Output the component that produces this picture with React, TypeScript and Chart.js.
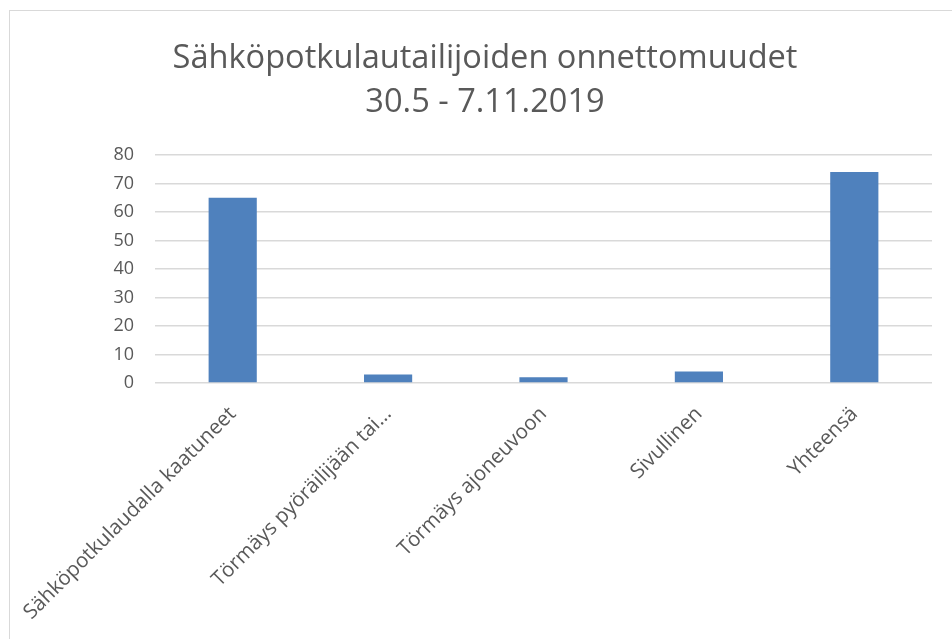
import React, { useEffect, useRef } from "react";
import { Chart, registerables } from "chart.js";

Chart.register(...registerables);

const categories = [
  "Sähköpotkulaudalla kaatuneet",
  "Törmäys pyöräilijään tai…",
  "Törmäys ajoneuvoon",
  "Sivullinen",
  "Yhteensä",
];
const values = [65, 3, 2, 4, 74];
const titleLines = ["Sähköpotkulautailijoiden onnettomuudet", "30.5 - 7.11.2019"];
const yMin = 0;
const yMax = 80;
const yStep = 10;

const FONT = "'Open Sans', 'Liberation Sans', sans-serif";
const TEXT = "#595959";

export default function App() {
  const ref = useRef<HTMLCanvasElement | null>(null);
  useEffect(() => {
    if (!ref.current) return;
    const chart = new Chart(ref.current, {
      type: "bar",
      data: {
        labels: categories,
        datasets: [
          {
            data: values,
            backgroundColor: "#4f81bd",
            borderWidth: 0,
            categoryPercentage: 1,
            barPercentage: 0.31,
            yAxisID: "y",
          },
        ],
      },
      options: {
        animation: false,
        responsive: false,
        maintainAspectRatio: false,
        layout: { padding: { left: 18, right: 0, top: 0, bottom: 0 } },
        plugins: {
          legend: { display: false },
          tooltip: { enabled: false },
          title: {
            display: true,
            text: titleLines,
            color: TEXT,
            font: { family: FONT, size: 32.6, weight: "normal", lineHeight: 1.35 },
            padding: { top: 37, bottom: 30 },
          },
        },
        scales: {
          x: {
            grid: { display: false, drawTicks: false },
            border: { display: false },
            ticks: {
              color: TEXT,
              font: { family: FONT, size: 20.5 },
              minRotation: 45,
              maxRotation: 45,
              autoSkip: false,
              padding: 19,
            },
            afterFit: (s: any) => {
              s.height = 256;
              s.paddingLeft = 0;
              s.paddingRight = 0;
            },
          },
          y: {
            min: yMin,
            max: yMax,
            grid: { color: "#d9d9d9", lineWidth: 1.5, drawTicks: false },
            border: { display: false },
            ticks: {
              stepSize: yStep,
              color: TEXT,
              font: { family: FONT, size: 18 },
              padding: 21,
            },
            afterFit: (s: any) => {
              s.width = 137;
              s.paddingTop = 0;
              s.paddingBottom = 0;
            },
          },
          yRight: {
            position: "right",
            min: yMin,
            max: yMax,
            display: true,
            grid: { display: false, drawTicks: false },
            border: { display: false },
            ticks: { display: false },
            afterFit: (s: any) => {
              s.width = 20;
              s.paddingTop = 0;
              s.paddingBottom = 0;
            },
          },
        },
      },
    });
    return () => chart.destroy();
  }, []);
  return (
    <div
      style={{
        position: "fixed",
        left: 0,
        top: 0,
        width: 952,
        height: 639,
        overflow: "hidden",
        background: "#ffffff",
      }}
    >
      <div
        style={{
          position: "absolute",
          left: 9,
          top: 10,
          width: 970,
          height: 660,
          border: "1.5px solid #d9d9d9",
        }}
      />
      <canvas
        ref={ref}
        width={952}
        height={639}
        style={{ position: "absolute", left: 0, top: 0, width: 952, height: 639 }}
      />
    </div>
  );
}
